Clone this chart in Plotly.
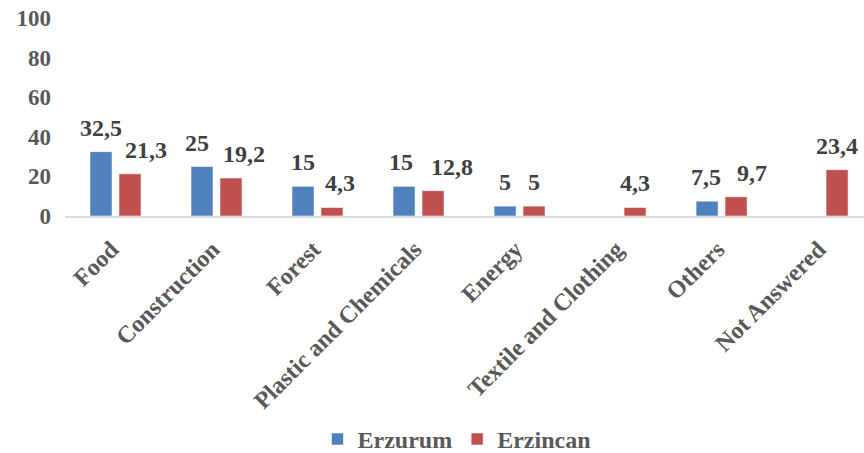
import plotly.graph_objects as go

categories = ["Food", "Construction", "Forest", "Plastic and Chemicals",
              "Energy", "Textile and Clothing", "Others", "Not Answered"]
erzurum = [32.5, 25, 15, 15, 5, None, 7.5, None]
erzincan = [21.3, 19.2, 4.3, 12.8, 5, 4.3, 9.7, 23.4]
y_ticks = [0, 20, 40, 60, 80, 100]

FONT = "Liberation Serif"
TICK_COLOR = "#595959"
LABEL_COLOR = "#404040"
BLUE = "#4f81bd"
RED = "#c0504d"

# horizontal pixel offset of each bar centre from its category centre
BAR_OFFSET = 14.5
# per-category nudges that keep neighbouring value labels apart
blue_nudge = [0, -5, 0, -3, 0, 0, -1, 0]
red_nudge = [16, 13, 8, 19, 0, 0, 16, 0]


def fmt(v):
    # decimal comma, as in the source table
    return ("%g" % v).replace(".", ",")


fig = go.Figure()
for name, vals, color in [("Erzurum", erzurum, BLUE),
                          ("Erzincan", erzincan, RED)]:
    fig.add_trace(go.Bar(
        x=categories, y=vals, name="<b>%s</b>" % name,
        marker=dict(color=color, line=dict(color="rgba(255,255,255,0.55)", width=1)),
    ))

# value labels above each bar
for vals, side, nudges in [(erzurum, -1, blue_nudge), (erzincan, 1, red_nudge)]:
    for cat, v, dx in zip(categories, vals, nudges):
        if v is None:
            continue
        fig.add_annotation(
            x=cat, y=v, xref="x", yref="y",
            text="<b>%s</b>" % fmt(v), showarrow=False,
            xanchor="center", yanchor="bottom",
            xshift=side * BAR_OFFSET + dx, yshift=9,
            font=dict(family=FONT, size=24, color=LABEL_COLOR),
        )

fig.update_layout(
    width=864, height=453,
    margin=dict(l=65, r=0, t=18, b=237),
    paper_bgcolor="white", plot_bgcolor="white",
    barmode="group", bargap=0.426, bargroupgap=0.24,
    font=dict(family=FONT, color=TICK_COLOR),
    showlegend=True,
    legend=dict(orientation="h", x=0.49, xanchor="center",
                yref="container", y=0.03, yanchor="middle",
                font=dict(family=FONT, size=24, color=TICK_COLOR),
                itemwidth=30),
)
fig.update_xaxes(
    range=[-0.5, 7.41],
    tickangle=-45, showline=True, linecolor="#d9d9d9", linewidth=1.5,
    ticks="", showgrid=False, ticklabelstandoff=8, ticklabelshift=-4,
    tickvals=categories, ticktext=["<b>%s</b>" % c for c in categories],
    tickfont=dict(family=FONT, size=24, color=TICK_COLOR),
)
fig.update_yaxes(
    range=[0, 100], tickvals=y_ticks, ticktext=["<b>%d</b>" % t for t in y_ticks],
    showgrid=False, zeroline=False, showline=False, ticks="",
    ticklabelstandoff=13,
    tickfont=dict(family=FONT, size=23, color=TICK_COLOR),
)

fig.write_html("out.html")
